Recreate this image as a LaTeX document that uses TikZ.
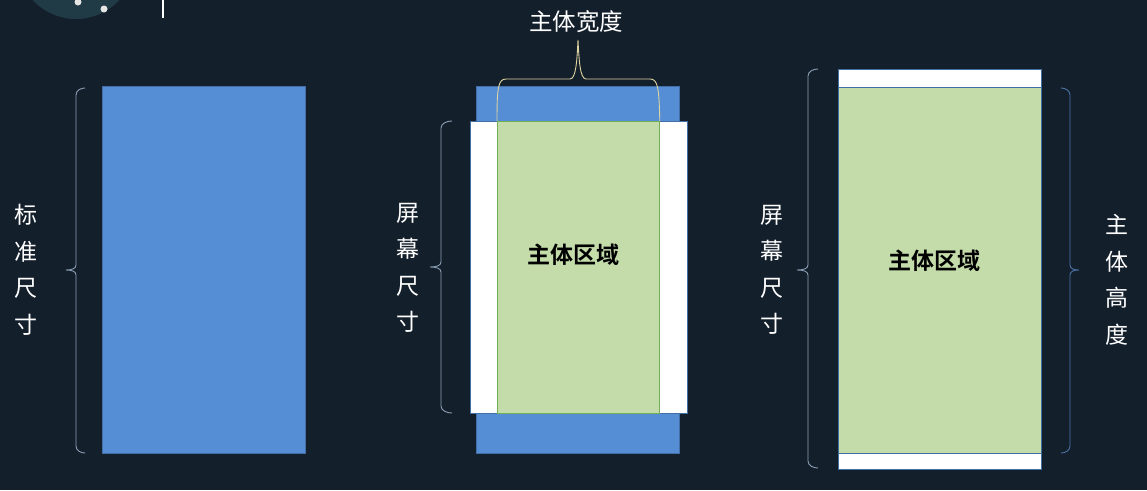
\documentclass[tikz,border=0pt]{standalone}
\usepackage{fontspec}
\newfontfamily\cjk{Noto Sans CJK SC}[BoldFont={Noto Sans CJK SC Bold}]
\definecolor{bg}{RGB}{20,31,44}
\definecolor{bluefill}{RGB}{85,142,213}
\definecolor{blueedge}{RGB}{65,110,165}
\definecolor{greenfill}{RGB}{195,220,170}
\definecolor{greenedge}{RGB}{115,175,85}
\definecolor{bracegrey}{RGB}{140,160,180}
\definecolor{braceblue}{RGB}{75,115,165}
\definecolor{braceyellow}{RGB}{222,212,160}
\definecolor{deco}{RGB}{32,58,70}
% side brace: #1 end x, #2 line x, #3 tip x, #4 top y, #5 bottom y, #6 tip y
\newcommand{\sidebrace}[6]{%
  (#1,#4) .. controls ({#2+0.6*(#1-#2)},#4) and (#2,{#4+2}) .. (#2,{#4+7})
  -- (#2,{#6-5}) .. controls (#2,{#6-1}) and ({#2+0.5*(#3-#2)},#6) .. (#3,#6)
  .. controls ({#2+0.5*(#3-#2)},#6) and (#2,{#6+1}) .. (#2,{#6+5})
  -- (#2,{#5-7}) .. controls (#2,{#5-2}) and ({#2+0.6*(#1-#2)},#5) .. (#1,#5)}
\tikzset{
  bluebox/.style={fill=bluefill,draw=blueedge,line width=0.8pt},
  whitebox/.style={fill=white,draw=blueedge,line width=0.8pt},
  greenbox/.style={fill=greenfill,draw=greenedge,line width=0.8pt},
  bracestyle/.style={line width=0.9pt},
  vlabel/.style={text=white,font=\cjk\fontsize{23}{36.5}\selectfont,align=center,inner sep=0pt},
  boldlabel/.style={text=black,font=\cjk\bfseries\fontsize{23}{26}\selectfont,inner sep=0pt},
}
\begin{document}
\begin{tikzpicture}[x=1pt,y=-1pt]
\fill[bg] (0,0) rectangle (1147,490);
\useasboundingbox (0,0) rectangle (1147,490);
% top-left decoration
\begin{scope}
\clip (0,0) rectangle (1147,490);
\fill[deco] (76,-40) circle (59);
\fill[white!80!gray] (78,2) circle (3.5);
\fill[white!80!gray] (104,9) circle (3.5);
\draw[white,line width=1.2pt] (163,0) -- (163,18);
\end{scope}
% left panel
\node[bluebox,minimum width=203,minimum height=367,inner sep=0pt,anchor=north west] (std) at (102,86) {};
\draw[bracegrey,bracestyle] \sidebrace{85}{76}{66}{88}{453}{270};
\node[vlabel] (stdlab) at (26,270) {标\\准\\尺\\寸};
% middle panel
\node[bluebox,minimum width=203,minimum height=367,inner sep=0pt,anchor=north west] (mstd) at (476,86) {};
\node[whitebox,minimum width=217,minimum height=292,inner sep=0pt,anchor=north west] (mscr) at (470,121) {};
\node[greenbox,minimum width=162,minimum height=292,inner sep=0pt,anchor=north west] (mbody) at (497,121) {};
\node[boldlabel] (mbodylab) at (573,255) {主体区域};
\draw[braceyellow,bracestyle]
  (mbody.north west) .. controls (497,88) and (498,79) .. (506,79)
  -- (570,79) .. controls (576,79) and (577,60) .. (578,40)
  .. controls (579,60) and (580,79) .. (586,79)
  -- (650,79) .. controls (658,79) and (659,88) .. (mbody.north east);
\node[text=white,font=\cjk\fontsize{23.5}{26}\selectfont,inner sep=0pt] (wlab) at (576,22) {主体宽度};
\draw[bracegrey,bracestyle] \sidebrace{452}{441}{430}{121}{413}{267};
\node[vlabel] (mscrlab) at (408,268) {屏\\幕\\尺\\寸};
% right panel
\node[whitebox,minimum width=203,minimum height=400,inner sep=0pt,anchor=north west] (rscr) at (838,69) {};
\node[greenbox,draw=blueedge,minimum width=203,minimum height=366,inner sep=0pt,anchor=north west] (rbody) at (838,87) {};
\node[boldlabel] (rbodylab) at (934,261) {主体区域};
\draw[bracegrey,bracestyle] \sidebrace{818}{808}{797}{69}{468}{270};
\node[vlabel] (rscrlab) at (772,270) {屏\\幕\\尺\\寸};
\draw[braceblue,bracestyle] \sidebrace{1061}{1070}{1079}{88}{453}{270};
\node[vlabel] (hlab) at (1117,280) {主\\体\\高\\度};
\end{tikzpicture}
\end{document}
